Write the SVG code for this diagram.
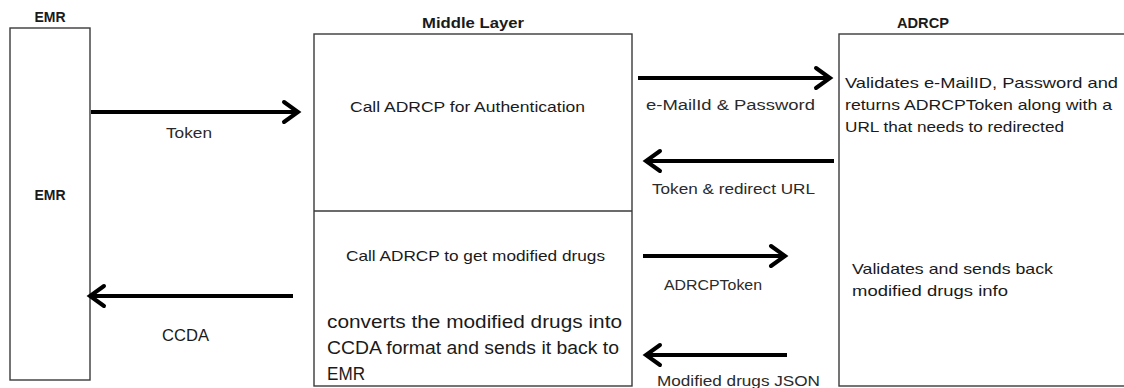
<svg xmlns="http://www.w3.org/2000/svg" width="1124" height="388" viewBox="0 0 1124 388">
<style>
.box{fill:#fff;stroke:#3a3a3a;stroke-width:1.4}
.t{font-family:"Liberation Sans",Arial,sans-serif;fill:#1a1a1a}
.b{font-weight:bold;font-size:14px}
.l{font-size:14px;fill:#2a2a2a}
.c{stroke:#000;stroke-width:4;fill:none;marker-end:url(#ah)}
</style>
<defs>
<marker id="ah" markerUnits="userSpaceOnUse" markerWidth="30" markerHeight="30" refX="18" refY="15" orient="auto" viewBox="0 0 30 30">
<polyline points="4,5 18,15 4,25" fill="none" stroke="#000" stroke-width="4" stroke-linecap="round" stroke-linejoin="miter"/>
</marker>
</defs>
<rect width="1124" height="388" fill="#fff"/>
<g id="emr">
<rect class="box" x="10" y="28" width="80" height="352"/>
<text class="t b" x="50" y="22" text-anchor="middle">EMR</text>
<text class="t b" x="50" y="200" text-anchor="middle">EMR</text>
</g>
<g id="middle">
<rect class="box" x="314" y="34" width="318" height="352"/>
<line x1="314" y1="211" x2="632" y2="211" stroke="#3a3a3a" stroke-width="1.4"/>
<text class="t b" x="473" y="28" text-anchor="middle" textLength="102" lengthAdjust="spacingAndGlyphs">Middle Layer</text>
<text class="t" x="350" y="112" font-size="15" textLength="235" lengthAdjust="spacingAndGlyphs">Call ADRCP for Authentication</text>
<text class="t" x="346" y="261" font-size="14.5" textLength="259" lengthAdjust="spacingAndGlyphs">Call ADRCP to get modified drugs</text>
<text class="t" x="327" y="328" font-size="17.5" textLength="295" lengthAdjust="spacingAndGlyphs">converts the modified drugs  into</text>
<text class="t" x="327" y="354" font-size="17.5" textLength="292" lengthAdjust="spacingAndGlyphs">CCDA format and sends it back to</text>
<text class="t" x="327" y="380" font-size="17.5" textLength="38" lengthAdjust="spacingAndGlyphs">EMR</text>
</g>
<g id="adrcp">
<rect class="box" x="839" y="34" width="300" height="352"/>
<text class="t b" x="923" y="28" text-anchor="middle" textLength="52" lengthAdjust="spacingAndGlyphs">ADRCP</text>
<text class="t" x="845" y="88" font-size="15" textLength="273" lengthAdjust="spacingAndGlyphs">Validates e-MailID, Password  and</text>
<text class="t" x="845" y="110" font-size="15" textLength="267" lengthAdjust="spacingAndGlyphs">returns  ADRCPToken  along with a</text>
<text class="t" x="845" y="132" font-size="15" textLength="219" lengthAdjust="spacingAndGlyphs">URL that needs to redirected</text>
<text class="t" x="852" y="274" font-size="15" textLength="201" lengthAdjust="spacingAndGlyphs">Validates and sends back</text>
<text class="t" x="852" y="296" font-size="15" textLength="156" lengthAdjust="spacingAndGlyphs">modified drugs info</text>
</g>
<g id="connectors">
<line class="c" x1="91" y1="112" x2="298" y2="112"/>
<text class="t l" x="166" y="138" textLength="46" lengthAdjust="spacingAndGlyphs">Token</text>
<line class="c" x1="293" y1="296" x2="90" y2="296"/>
<text class="t" x="162" y="341" font-size="17" fill="#2a2a2a" textLength="47" lengthAdjust="spacingAndGlyphs">CCDA</text>
<line class="c" x1="638" y1="78" x2="830" y2="78"/>
<text class="t l" x="646" y="110" textLength="169" lengthAdjust="spacingAndGlyphs">e-MailId &amp; Password</text>
<line class="c" x1="834" y1="161" x2="646" y2="161"/>
<text class="t l" x="652" y="194" textLength="163" lengthAdjust="spacingAndGlyphs">Token &amp; redirect URL</text>
<line class="c" x1="643" y1="256" x2="785" y2="256"/>
<text class="t l" x="664" y="290" textLength="98" lengthAdjust="spacingAndGlyphs">ADRCPToken</text>
<line class="c" x1="787" y1="355" x2="646" y2="355"/>
<text class="t l" x="657" y="386" textLength="163" lengthAdjust="spacingAndGlyphs">Modified drugs JSON</text>
</g>
</svg>
